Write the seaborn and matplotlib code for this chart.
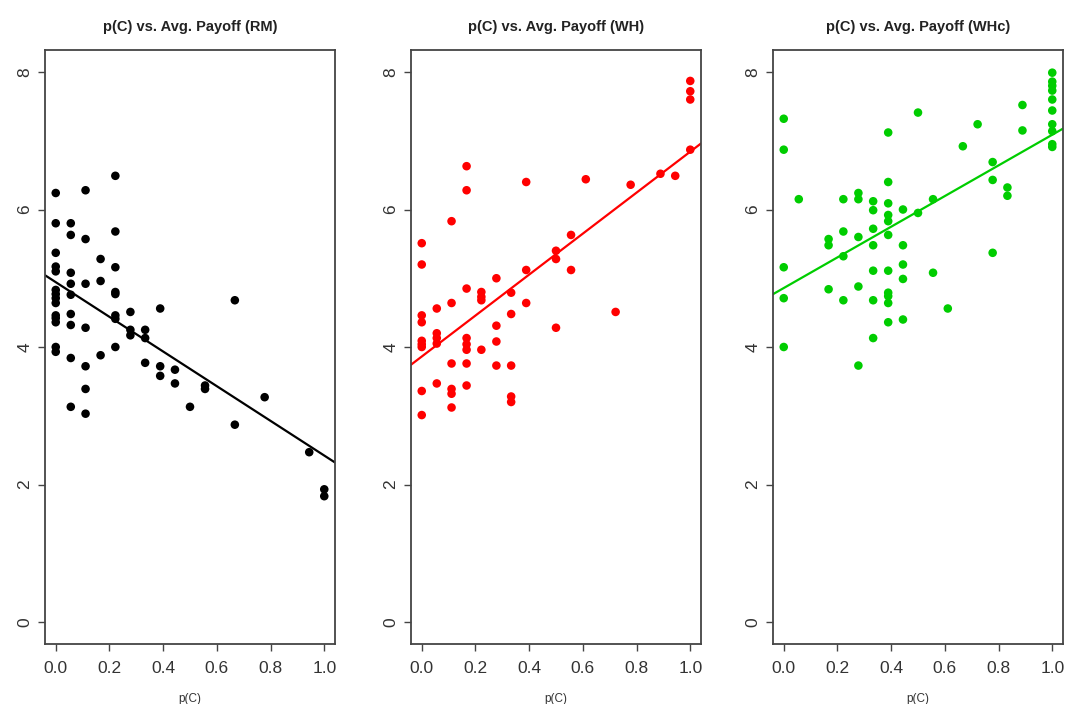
import matplotlib
matplotlib.use("Agg")
import matplotlib.pyplot as plt
import seaborn as sns
import pandas as pd

# ---------------- data ----------------
rm_x = [0.0]*14 + [0.056]*9 + [0.111]*7 + [0.167]*3 + [0.222]*8 + [0.278]*3 + [0.333]*3 \
       + [0.389]*3 + [0.444]*2 + [0.5] + [0.556]*2 + [0.667]*2 + [0.778] + [0.944] + [1.0]*2
rm_y = [6.24, 5.80, 5.37, 5.17, 5.10, 4.83, 4.77, 4.71, 4.64, 4.46, 4.42, 4.36, 4.00, 3.93,
        5.80, 5.63, 5.08, 4.92, 4.76, 4.48, 4.32, 3.84, 3.13,
        6.28, 5.57, 4.92, 4.28, 3.72, 3.39, 3.03,
        5.28, 4.96, 3.88,
        6.49, 5.68, 5.16, 4.80, 4.77, 4.46, 4.41, 4.00,
        4.51, 4.25, 4.17,
        4.25, 4.13, 3.77,
        4.56, 3.72, 3.58,
        3.67, 3.47,
        3.13,
        3.44, 3.39,
        4.68, 2.87,
        3.27,
        2.47,
        1.93, 1.83]

wh_x = [0.0]*9 + [0.056]*5 + [0.111]*6 + [0.167]*8 + [0.222]*4 + [0.278]*4 + [0.333]*5 \
       + [0.389]*3 + [0.5]*3 + [0.556]*2 + [0.611] + [0.722] + [0.778] + [0.889] + [0.944] + [1.0]*4
wh_y = [5.51, 5.20, 4.46, 4.36, 4.09, 4.04, 4.00, 3.36, 3.01,
        4.56, 4.20, 4.13, 4.05, 3.47,
        5.83, 4.64, 3.76, 3.39, 3.32, 3.12,
        6.63, 6.28, 4.85, 4.13, 4.04, 3.96, 3.76, 3.44,
        4.80, 4.73, 4.68, 3.96,
        5.00, 4.31, 4.08, 3.73,
        4.79, 4.48, 3.73, 3.28, 3.20,
        6.40, 5.12, 4.64,
        5.40, 5.28, 4.28,
        5.63, 5.12,
        6.44,
        4.51,
        6.36,
        6.52,
        6.49,
        7.87, 7.72, 7.60, 6.87]

whc_x = [0.0]*5 + [0.056] + [0.167]*3 + [0.222]*4 + [0.278]*5 + [0.333]*7 + [0.389]*11 \
        + [0.444]*5 + [0.5]*2 + [0.556]*2 + [0.611] + [0.667] + [0.722] + [0.778]*3 \
        + [0.833]*2 + [0.889]*2 + [1.0]*10
whc_y = [7.32, 6.87, 5.16, 4.71, 4.00,
         6.15,
         5.57, 5.48, 4.84,
         6.15, 5.68, 5.32, 4.68,
         6.24, 6.15, 5.60, 4.88, 3.73,
         6.12, 5.99, 5.72, 5.48, 5.11, 4.68, 4.13,
         7.12, 6.40, 6.09, 5.92, 5.83, 5.63, 5.11, 4.79, 4.74, 4.64, 4.36,
         6.00, 5.48, 5.20, 4.99, 4.40,
         7.41, 5.95,
         6.15, 5.08,
         4.56,
         6.92,
         7.24,
         6.69, 6.43, 5.37,
         6.32, 6.20,
         7.52, 7.15,
         7.99, 7.86, 7.80, 7.73, 7.60, 7.44, 7.24, 7.14, 6.95, 6.91]

titles = ["p(C) vs. Avg. Payoff (RM)", "p(C) vs. Avg. Payoff (WH)", "p(C) vs. Avg. Payoff (WHc)"]
colors = ["#000000", "#FF0000", "#00CD00"]
x_ticks = [0.0, 0.2, 0.4, 0.6, 0.8, 1.0]
x_tick_labels = ["0.0", "0.2", "0.4", "0.6", "0.8", "1.0"]
y_ticks = [0, 2, 4, 6, 8]
x_label = "p(C)"

# ---------------- plot ----------------
sns.set_style("white")
plt.rcParams["font.family"] = ["Liberation Sans", "DejaVu Sans"]

fig = plt.figure(figsize=(10.67, 7.04), dpi=100)
W, H = 1067.0, 704.0
lefts = [45, 411, 773]
panel_w = 290
top, bottom = 50, 644

datasets = [(rm_x, rm_y), (wh_x, wh_y), (whc_x, whc_y)]
for i, ((xs, ys), title, col) in enumerate(zip(datasets, titles, colors)):
    ax = fig.add_axes([lefts[i] / W, (H - bottom) / H, panel_w / W, (bottom - top) / H])
    df = pd.DataFrame({"p": xs, "payoff": ys})
    ax.set_xlim(-0.04, 1.04)
    ax.set_ylim(-0.32, 8.32)
    sns.scatterplot(data=df, x="p", y="payoff", color=col, s=38, edgecolor="none",
                    ax=ax, zorder=3)
    sns.regplot(data=df, x="p", y="payoff", scatter=False, ci=None, truncate=False,
                color=col, line_kws={"linewidth": 1.6}, ax=ax)
    ax.set_xlim(-0.04, 1.04)
    ax.set_ylim(-0.32, 8.32)
    ax.set_xticks(x_ticks)
    ax.set_xticklabels(x_tick_labels)
    ax.set_yticks(y_ticks)
    ax.set_yticklabels([str(v) for v in y_ticks], rotation=90, va="center")
    ax.tick_params(axis="both", direction="out", length=5, width=1.0, color="#444444",
                   labelsize=12.5, labelcolor="#333333", bottom=True, left=True)
    ax.tick_params(axis="x", pad=7.5)
    ax.tick_params(axis="y", pad=4)
    for sp in ax.spines.values():
        sp.set_visible(True)
        sp.set_color("#444444")
        sp.set_linewidth(1.3)
    ax.set_title(title, fontsize=10.5, fontweight="bold", color="#222222", pad=14)
    ax.set_xlabel(x_label, fontsize=8.5, color="#333333", labelpad=12)
    ax.set_ylabel("")

fig.savefig("out.png", dpi=100, facecolor="white")
